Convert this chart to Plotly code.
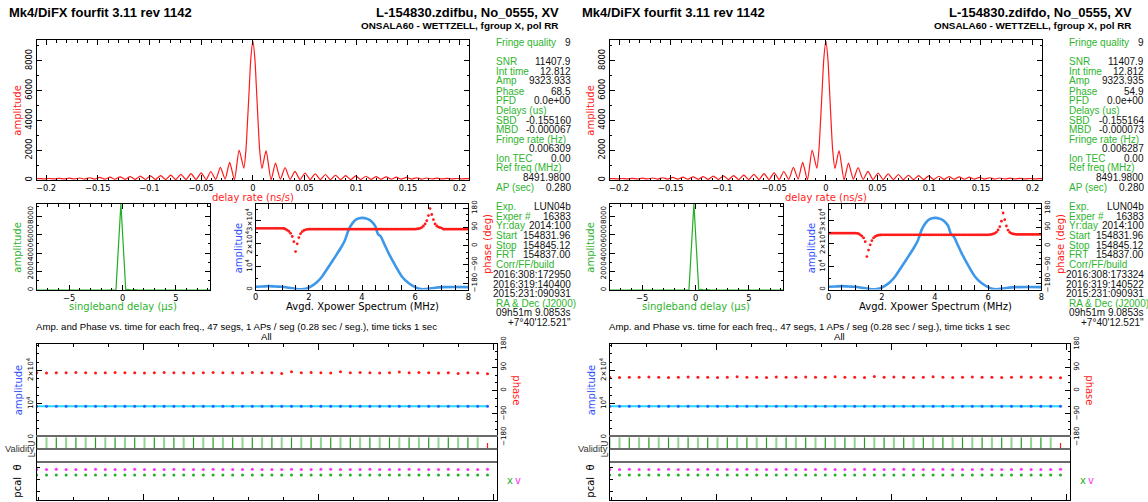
import numpy as np
import plotly.graph_objects as go

W, H = 1148, 502

# ======================= DATA =======================
# --- delay-rate spectrum (ns/s) -> amplitude
dr_rate = [
    -0.209, -0.2068, -0.2019, -0.197, -0.1921, -0.1872, -0.1823, -0.1774, -0.1725, -0.1676,
    -0.1627, -0.1578, -0.1529, -0.148, -0.1431, -0.1382, -0.1333, -0.1284, -0.1235, -0.1186,
    -0.1137, -0.1088, -0.1039, -0.099, -0.0941, -0.0892, -0.0843, -0.0794, -0.0745, -0.0696,
    -0.0647, -0.0598, -0.0549, -0.05, -0.0451, -0.0407, -0.0359, -0.0314, -0.0268, -0.0224,
    -0.0178, -0.0133, -0.0087, -0.0067, -0.0051, -0.0036, -0.002, 0.0,
    0.002, 0.0035, 0.005, 0.0066, 0.0088, 0.0128, 0.0176, 0.0219, 0.0266, 0.0312,
    0.036, 0.0407, 0.0456, 0.0505, 0.0554, 0.0603, 0.0652, 0.0701, 0.075, 0.0799,
    0.0848, 0.0897, 0.0946, 0.0995, 0.1044, 0.1093, 0.1142, 0.1191, 0.124, 0.1289,
    0.1338, 0.1387, 0.1436, 0.1485, 0.1534, 0.1583, 0.1632, 0.1681, 0.173, 0.1779,
    0.1828, 0.1877, 0.1926, 0.1975, 0.2024, 0.2073, 0.209]
dr_amp = [
    90, 95, 75, 100, 75, 110, 70, 120, 70, 135,
    65, 150, 60, 170, 55, 190, 50, 210, 45, 230,
    40, 255, 35, 280, 30, 300, 30, 330, 30, 380,
    30, 430, 30, 480, 30, 570, 40, 850, 60, 1180,
    10, 2010, 800, 2000, 4000, 6000, 8100, 9324,
    8100, 6100, 4000, 2000, 780, 1970, 10, 1130, 60, 830,
    40, 580, 30, 470, 30, 420, 30, 370, 30, 320,
    30, 290, 30, 270, 35, 250, 40, 230, 45, 210,
    50, 190, 55, 170, 60, 150, 65, 135, 70, 120,
    70, 110, 75, 100, 75, 95, 90]

# --- singleband delay (us) -> amplitude
sb_delay = [-8.2, -0.62, -0.155, 0.3, 0.5, 0.8, 1.1, 1.4, 8.2]
sb_amp = [0, 0, 9324, 0, 60, 0, 40, 0, 0]

# --- averaged cross-power spectrum amplitude (MHz -> amplitude)
xp_amp_freq = [0, 0.25, 0.5, 0.75, 1.0, 1.25, 1.5, 1.65, 1.8, 1.95, 2.1, 2.3, 2.5, 2.75,
               3.0, 3.2, 3.35, 3.5, 3.65, 3.8, 4.0, 4.2, 4.35, 4.5, 4.6, 4.7, 4.85, 5.0,
               5.25, 5.5, 5.75, 6.0, 6.15, 6.3, 6.5, 6.75, 7.0, 7.5, 8.0]
xp_amp = [1170, 1300, 1460, 1300, 1170, 730, 290, 70, 150, 580, 1460, 3200, 5700, 10070,
          14450, 18100, 21300, 26100, 29050, 30660, 31240, 30800, 29800, 27600, 24200, 23200,
          19600, 15900, 10500, 5700, 2800, 1020, 290, 70, 290, 730, 1020, 1100, 1020]

# --- cross-power phase per spectral channel (deg), 129 channels 0..8 MHz
xp_phase_bu = [
    84, 84, 84, 84, 84, 84, 84, 84, 84, 84, 84, 84, 84, 84, 84, 84, 84,
    83, 80, 75, 69, 60, 45, 20, -27, 10, 40, 58, 68, 74, 77, 79,
    80, 80, 80, 80, 80, 80, 80, 80, 80, 80, 80, 80, 80, 80, 80, 80,
    80, 80, 80, 80, 80, 80, 80, 80, 80, 80, 80, 80, 80, 80, 80, 80,
    80, 80, 80, 80, 80, 80, 80, 80, 80, 80, 80, 80, 80, 80, 80, 80,
    80, 80, 80, 80, 80, 80, 80, 80, 80, 80, 80, 80, 80, 80, 80, 80, 80,
    81, 82, 84, 88, 95, 105, 120, 145, 178, 150, 125, 105, 95, 90, 87, 85,
    80, 80, 80, 80, 80, 80, 80, 80, 80, 80, 80, 80, 80, 80, 80, 80]
xp_phase_do = [
    61, 61, 61, 61, 61, 61, 61, 61, 61, 61, 61, 61, 61, 61, 61, 61, 61,
    60, 58, 53, 47, 38, 20, -51, -20, 5, 25, 38, 45, 49, 51, 52,
    53, 53, 53, 53, 53, 53, 53, 53, 53, 53, 53, 53, 53, 53, 53, 53,
    53, 53, 53, 53, 53, 53, 53, 53, 53, 53, 53, 53, 53, 53, 53, 53,
    53, 53, 53, 53, 53, 53, 53, 53, 53, 53, 53, 53, 53, 53, 53, 53,
    53, 53, 53, 53, 53, 53, 53, 53, 53, 53, 53, 53, 53, 53, 53, 53, 53,
    54, 55, 57, 60, 66, 76, 92, 118, 157, 125, 95, 75, 65, 60, 57, 56,
    55, 55, 55, 55, 55, 55, 55, 55, 55, 55, 55, 55, 55, 55, 55, 55]

# --- per-segment values (47 segments of 0.28 s)
seg_amp_bu = [9324, 9320, 9326, 9324, 9322, 9324, 9326, 9324, 9320, 9324, 9326, 9322,
              9324, 9326, 9320, 9324, 9322, 9326, 9324, 9324, 9326, 9322, 9324, 9326,
              9320, 9324, 9322, 9326, 9324, 9324, 9326, 9322, 9324, 9326, 9320, 9324,
              9322, 9326, 9324, 9324, 9326, 9322, 9324, 9326, 9320, 9324, 9322]
seg_amp_do = seg_amp_bu
seg_phase_bu = [69, 68, 69, 69, 70, 69, 68, 69, 70, 69, 69, 68, 69, 70, 69, 69, 68, 69,
                70, 69, 69, 68, 70, 69, 69, 66, 73, 69, 70, 69, 68, 73, 69, 70, 69, 68,
                69, 72, 69, 70, 69, 68, 69, 66, 69, 68, 65]
seg_phase_do = [52, 51, 52, 52, 53, 52, 51, 52, 53, 52, 52, 51, 52, 54, 52, 52, 51, 53,
                52, 52, 53, 52, 52, 54, 52, 52, 51, 55, 52, 53, 52, 51, 52, 54, 52, 51,
                52, 53, 52, 52, 51, 52, 53, 52, 52, 51, 50]
seg_valid_u = [1] * 46 + [0]
pcal_x = [70, 70, 71, 70, 70, 70, 71, 70, 70, 70, 71, 70, 70, 70, 71, 70, 70, 70, 71, 70,
          70, 70, 71, 70, 70, 70, 71, 70, 70, 70, 71, 70, 70, 70, 71, 70, 70, 70, 71, 70,
          70, 70, 71, 70, 70, 70, 71]
pcal_v = [156, 156, 157, 156, 156, 156, 157, 156, 156, 156, 157, 156, 156, 156, 157, 156,
          156, 156, 158, 156, 156, 156, 157, 156, 156, 156, 157, 156, 156, 158, 157, 156,
          156, 156, 157, 156, 156, 156, 157, 156, 156, 156, 157, 156, 156, 156, 157]

# --- text panel
info_labels = ["Fringe quality", "SNR", "Int time", "Amp", "Phase", "PFD", "Delays (us)",
               "SBD", "MBD", "Fringe rate (Hz)", "", "Ion TEC", "Ref freq (MHz)", "",
               "AP (sec)", "Exp.", "Exper #", "Yr:day", "Start", "Stop", "FRT",
               "Corr/FF/build", "", "", "", "RA &amp; Dec (J2000)", "", ""]
info_values_bu = ["9", "11407.9", "12.812", "9323.933", "68.5", "0.0e+00", "",
                  "-0.155160", "-0.000067", "", "0.006309", "0.00", "", "8491.9800",
                  "0.280", "LUN04b", "16383", "2014:100", "154831.96", "154845.12",
                  "154837.00", "", "2016:308:172950", "2016:319:140400", "2015:231:090931",
                  "", "09h51m 9.0853s", "+7\u00b040'12.521\""]
info_values_do = ["9", "11407.9", "12.812", "9323.935", "54.9", "0.0e+00", "",
                  "-0.155164", "-0.000073", "", "0.006287", "0.00", "", "8491.9800",
                  "0.280", "LUN04b", "16383", "2014:100", "154831.96", "154845.12",
                  "154837.00", "", "2016:308:173324", "2016:319:140522", "2015:231:090931",
                  "", "09h51m 9.0853s", "+7\u00b040'12.521\""]

title_left = "Mk4/DiFX fourfit 3.11 rev 1142"
title_bu = "L-154830.zdifbu, No_0555, XV"
title_do = "L-154830.zdifdo, No_0555, XV"
subtitle = "ONSALA60 - WETTZELL, fgroup X, pol RR"
seg_title = ("Amp. and Phase vs. time for each freq., 47 segs, 1 APs / seg "
             "(0.28 sec / seg.), time ticks 1 sec")

seg_len = 0.28
n_seg = len(seg_phase_bu)
seg_time = np.arange(n_seg) * seg_len
xp_chan = np.linspace(0, 8, len(xp_phase_bu))

# ======================= STYLE / LAYOUT =======================
RED = '#ff1a1a'
GREEN_TXT = '#2eb42e'
GREEN_LN = '#1faf1f'
BLUE_TXT = '#3050ff'
XP_BLUE = '#3d98ea'
CYAN = '#22dcff'
MAGENTA = '#ff30ff'
TICKFONT = dict(family='DejaVu Sans', size=8.3, color='black')
SMALLTICK = dict(family='DejaVu Sans', size=7.2, color='black')
LABFONT = 'DejaVu Sans'
TXTFONT = 'Liberation Sans'


def X(px):
    return px / W


def Y(py):
    return 1 - py / H


def dx(a, b):
    return [X(a), X(b)]


def dy(top, bottom):
    return [Y(bottom), Y(top)]


cnt = {'x': 0, 'y': 0}
axes = {}
traces = []
annotations = []
shapes = []


def new_axis(kind):
    cnt[kind] += 1
    n = cnt[kind]
    return kind + 'axis' + ('' if n == 1 else str(n)), kind + ('' if n == 1 else str(n))


def ax(**kw):
    d = dict(showgrid=False, zeroline=False, showline=True, linecolor='black', linewidth=1,
             ticks='inside', ticklen=5, tickwidth=1, tickcolor='black', automargin=False,
             tickfont=TICKFONT, fixedrange=True, exponentformat='none')
    d.update(kw)
    return d


def mnr(dt, t0=0, ln=2.5):
    return dict(ticks='inside', ticklen=ln, tickcolor='black', dtick=dt, tick0=t0)


def txt(x, y, s, color='black', size=10, family=TXTFONT, xanchor='left', angle=0):
    annotations.append(dict(x=X(x), y=Y(y), xref='paper', yref='paper', text=s,
                            showarrow=False, xanchor=xanchor, yanchor='middle',
                            textangle=angle, borderpad=0,
                            font=dict(family=family, size=size, color=color)))


info_y = [42.3, 61.7, 71.3, 81, 91, 100.3, 110, 120, 129.3, 139, 149, 158.3, 167.7, 177.7,
          187.3, 206.7, 216, 225.7, 235.7, 245, 254.3, 264.3, 274.3, 284, 293.3, 303.3,
          312.7, 322.3]


def build_panel(ox, title_r, xp_phase, seg_amp, seg_phase, info_values):
    # ---------- delay-rate plot
    xa, xr = new_axis('x'); ya, yr = new_axis('y')
    axes[xa] = ax(domain=dx(ox + 36.7, ox + 469), anchor=yr, range=[-0.209, 0.209],
                  tick0=0, dtick=0.05, minor=mnr(0.01), mirror='allticks')
    axes[ya] = ax(domain=dy(40, 180), anchor=xr, range=[0, 9390], tick0=0, dtick=2000,
                  tickangle=-90, minor=mnr(1000), mirror='allticks')
    traces.append(go.Scatter(x=dr_rate, y=dr_amp, xaxis=xr, yaxis=yr, mode='lines',
                             line=dict(color=RED, width=1.2, shape='spline', smoothing=0.6)))

    # ---------- singleband delay
    xa, xr = new_axis('x'); ya, yr = new_axis('y')
    axes[xa] = ax(domain=dx(ox + 36.7, ox + 210), anchor=yr, range=[-8.05, 8.2],
                  tick0=0, dtick=5, minor=mnr(1), mirror='allticks')
    axes[ya] = ax(domain=dy(204, 290), anchor=xr, range=[0, 9300], tick0=0, dtick=2000,
                  tickangle=-90, minor=mnr(1000), mirror='allticks', tickfont=SMALLTICK)
    traces.append(go.Scatter(x=sb_delay, y=sb_amp, xaxis=xr, yaxis=yr, mode='lines',
                             line=dict(color=GREEN_LN, width=1.2)))

    # ---------- cross-power spectrum
    xa, xr = new_axis('x'); ya, yr = new_axis('y'); ya2, yr2 = new_axis('y')
    axes[xa] = ax(domain=dx(ox + 255.7, ox + 468.3), anchor=yr, range=[0, 8],
                  tick0=0, dtick=2, minor=mnr(0.5), mirror='allticks')
    axes[ya] = ax(domain=dy(204, 289.5), anchor=xr, range=[0, 37300],
                  tickmode='array', tickvals=[0, 10000, 20000, 30000],
                  ticktext=['0', '10<sup>4</sup>', '2\u00d710<sup>4</sup>', '3\u00d710<sup>4</sup>'],
                  tickangle=-90, minor=mnr(5000), mirror=True, tickfont=SMALLTICK)
    axes[ya2] = ax(domain=dy(204, 289.5), anchor=xr, overlaying=yr, side='right',
                   range=[-208, 200], tickmode='array', tickvals=[-180, -90, 0, 90, 180],
                   ticktext=['\u2212180', '\u221290', '0', '90', '180'], tickangle=-90,
                   minor=mnr(30, -180), showline=False, tickfont=SMALLTICK)
    traces.append(go.Scatter(x=xp_amp_freq, y=xp_amp, xaxis=xr, yaxis=yr, mode='lines',
                             line=dict(color=XP_BLUE, width=2.6, shape='spline', smoothing=0.6)))
    traces.append(go.Scatter(x=xp_chan, y=xp_phase, xaxis=xr, yaxis=yr2, mode='markers',
                             marker=dict(color=RED, size=2.8, line=dict(width=0))))

    # ---------- per-segment amplitude / phase
    xa, xr = new_axis('x'); ya, yr = new_axis('y'); ya2, yr2 = new_axis('y')
    axes[xa] = ax(domain=dx(ox + 36.7, ox + 497.3), anchor=yr, side='top',
                  range=[0, n_seg * seg_len], tick0=3.04, dtick=5, ticklen=6,
                  showticklabels=False, minor=mnr(1, 0.04, 3), mirror=False)
    axes[ya] = ax(domain=dy(344, 437.3), anchor=xr, range=[0, 27972],
                  tickmode='array', tickvals=[0, 10000, 20000],
                  ticktext=['0', '10<sup>4</sup>', '2\u00d710<sup>4</sup>'],
                  tickangle=-90, minor=mnr(2500), mirror=True, tickfont=SMALLTICK)
    axes[ya2] = ax(domain=dy(344, 437.3), anchor=xr, overlaying=yr, side='right',
                   range=[-180, 180], tickmode='array', tickvals=[-180, -90, 0, 90, 180],
                   ticktext=['\u2212180', '\u221290', '0', '90', '180'], tickangle=-90,
                   minor=mnr(30, -180), showline=False, tickfont=SMALLTICK)
    traces.append(go.Scatter(x=seg_time, y=seg_amp, xaxis=xr, yaxis=yr, mode='lines+markers',
                             line=dict(color=CYAN, width=2),
                             marker=dict(color='#2d5cff', size=3, line=dict(width=0))))
    traces.append(go.Scatter(x=seg_time, y=seg_phase, xaxis=xr, yaxis=yr2, mode='markers',
                             marker=dict(color=RED, size=3, line=dict(width=0))))

    # ---------- validity strip
    xa, xr = new_axis('x'); ya, yr = new_axis('y')
    axes[xa] = ax(domain=dx(ox + 36.7, ox + 497.3), anchor=yr, range=[0, n_seg * seg_len],
                  ticks='', showticklabels=False, mirror=True, linecolor='#6a6a6a', linewidth=2)
    axes[ya] = ax(domain=dy(437.3, 460.5), anchor=xr, range=[0, 2], ticks='',
                  showticklabels=False, mirror=True)
    lx_light, ly_light, lx_dark, ly_dark, lx_bad, ly_bad = [], [], [], [], [], []
    for i, (t, v) in enumerate(zip(seg_time, seg_valid_u)):
        if v:
            if i % 2:
                lx_light += [t, t, None]; ly_light += [1, 2, None]
            else:
                lx_dark += [t, t, None]; ly_dark += [1, 2, None]
        else:
            lx_bad += [t, t, None]; ly_bad += [1, 1.5, None]
    traces.append(go.Scatter(x=lx_light, y=ly_light, xaxis=xr, yaxis=yr, mode='lines',
                             line=dict(color='#8fd48f', width=2)))
    traces.append(go.Scatter(x=lx_dark, y=ly_dark, xaxis=xr, yaxis=yr, mode='lines',
                             line=dict(color='#1f9f1f', width=1.2)))
    traces.append(go.Scatter(x=lx_bad, y=ly_bad, xaxis=xr, yaxis=yr, mode='lines',
                             line=dict(color=RED, width=1.2)))
    shapes.append(dict(type='line', xref='paper', yref='paper', x0=X(ox + 36.7), x1=X(ox + 497.3),
                       y0=Y(449), y1=Y(449), line=dict(color='#6a6a6a', width=2)))

    # ---------- phase-cal strip
    xa, xr = new_axis('x'); ya, yr = new_axis('y'); ya2, yr2 = new_axis('y')
    axes[xa] = ax(domain=dx(ox + 36.7, ox + 497.3), anchor=yr, range=[0, n_seg * seg_len],
                  tick0=3.04, dtick=5, ticklen=6, showticklabels=False,
                  minor=mnr(1, 0.04, 3), mirror=False)
    axes[ya] = ax(domain=dy(460.5, 500), anchor=xr, range=[-305, 290], tickmode='array',
                  tickvals=[-180, 0, 180], showticklabels=False, ticklen=3, mirror=True)
    axes[ya2] = ax(domain=dy(460.5, 500), anchor=xr, overlaying=yr, side='right',
                   range=[-305, 290], tickmode='array', tickvals=[-180, 0, 180],
                   ticktext=['\u2212180', '0', '180'], tickangle=-90, ticklen=3,
                   tickfont=dict(family='DejaVu Sans', size=5.5, color='black'),
                   showline=False)
    traces.append(go.Scatter(x=seg_time, y=pcal_v, xaxis=xr, yaxis=yr, mode='markers',
                             marker=dict(color=MAGENTA, size=3, line=dict(width=0))))
    traces.append(go.Scatter(x=seg_time, y=pcal_x, xaxis=xr, yaxis=yr, mode='markers',
                             marker=dict(color='#22b022', size=3, line=dict(width=0))))

    # ---------- texts
    txt(ox + 8.3, 13, '<b>' + title_left + '</b>', size=13)
    txt(ox + 560, 13, '<b>' + title_r + '</b>', size=13, xanchor='right')
    txt(ox + 560, 26, '<b>' + subtitle + '</b>', size=9.9, xanchor='right')

    txt(ox + 252.5, 197, 'delay rate (ns/s)', RED, 10, LABFONT, 'center')
    txt(ox + 16.7, 110, 'amplitude', RED, 10, LABFONT, 'center', -90)
    txt(ox + 16.7, 247, 'amplitude', GREEN_TXT, 10, LABFONT, 'center', -90)
    txt(ox + 122.7, 306.7, 'singleband delay (\u00b5s)', GREEN_TXT, 10, LABFONT, 'center')
    txt(ox + 238.3, 248, 'amplitude', BLUE_TXT, 10, LABFONT, 'center', -90)
    txt(ox + 362.5, 306.7, 'Avgd. Xpower Spectrum (MHz)', 'black', 10, LABFONT, 'center')
    txt(ox + 487, 244, 'phase (deg)', RED, 10, LABFONT, 'center', -90)

    txt(ox + 236.2, 326, seg_title, 'black', 9.6, TXTFONT, 'center')
    txt(ox + 266.7, 336, 'All', 'black', 9.6, TXTFONT, 'center')
    txt(ox + 18.3, 390, 'amplitude', BLUE_TXT, 10, LABFONT, 'center', -90)
    txt(ox + 516.7, 390, 'phase', RED, 10, LABFONT, 'center', 90)
    txt(ox + 20, 449, 'Validity', '#333333', 9.3, TXTFONT, 'center')
    txt(ox + 32.3, 443.3, 'U', '#333333', 8, LABFONT, 'center', -90)
    txt(ox + 32.3, 455, 'L', '#333333', 8, LABFONT, 'center', -90)
    txt(ox + 18, 481.7, 'pcal  \u03b8', 'black', 10, LABFONT, 'center', -90)
    txt(ox + 510, 480.7, 'x', '#22b022', 10, LABFONT, 'center')
    txt(ox + 518, 480.7, 'v', MAGENTA, 10, LABFONT, 'center')

    for lab, val, yy in zip(info_labels, info_values, info_y):
        if lab:
            txt(ox + 495, yy, lab, GREEN_TXT, 10)
        if val:
            txt(ox + 572, yy, val, '#111111', 10, xanchor='right')


build_panel(0, title_bu, xp_phase_bu, seg_amp_bu, seg_phase_bu, info_values_bu)
build_panel(573, title_do, xp_phase_do, seg_amp_do, seg_phase_do, info_values_do)

fig = go.Figure(data=traces)
fig.update_layout(width=W, height=H,
                  margin=dict(l=0, r=0, t=0, b=0, pad=0, autoexpand=False),
                  paper_bgcolor='white', plot_bgcolor='white', showlegend=False,
                  annotations=annotations, shapes=shapes, **axes)
fig.write_html("out.html", config={'displayModeBar': False},
               post_script="document.body.style.margin='0';document.body.style.overflow='hidden';")
